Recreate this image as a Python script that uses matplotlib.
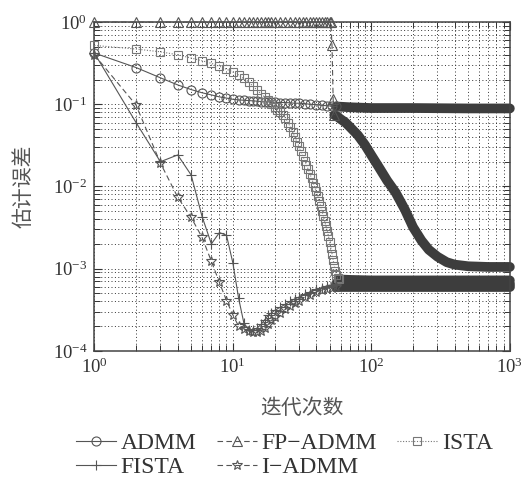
import numpy as np
import matplotlib.pyplot as plt

plt.rcParams['font.family'] = ['Liberation Serif', 'DejaVu Serif']
plt.rcParams['mathtext.fontset'] = 'stix'

# ---- datos ----
# ADMM (circulos)
admm_n = list(range(1, 21)) + [22, 24, 26, 28, 30, 33, 36, 40, 44, 48, 52, 56]
admm_v = [0.42, 0.28, 0.21, 0.172, 0.151, 0.138, 0.130, 0.123, 0.119, 0.115,
          0.113, 0.112, 0.111, 0.110, 0.109, 0.108, 0.108, 0.107, 0.106, 0.106,
          0.105, 0.105, 0.104, 0.103, 0.103, 0.102, 0.100, 0.099, 0.097, 0.096, 0.095, 0.094]
admm_tail_n = [56, 70, 100, 200, 500, 1000]
admm_tail_v = [0.094, 0.092, 0.090, 0.090, 0.089, 0.089]

# FP-ADMM (triangulos)
fp_n = list(range(1, 21)) + [22, 24, 26, 28, 30, 32, 34, 36, 38, 40, 42, 44, 46, 48, 50,
                              51, 52, 53, 54]
fp_v = [1.0, 1.0, 1.0, 1.0, 1.0, 1.0, 1.0, 1.0, 1.0, 1.0,
        1.0, 1.0, 1.0, 1.0, 1.0, 1.0, 1.0, 1.0, 1.0, 1.0,
        1.0, 1.0, 1.0, 1.0, 1.0, 1.0, 1.0, 1.0, 1.0, 1.0, 1.0, 1.0, 1.0, 1.0, 1.0,
        1.0, 0.52, 0.115, 0.074]
fp_tail_n = [54, 56, 60, 65, 70, 80, 90, 100, 113, 130, 150, 175, 200, 230, 260,
             300, 350, 400, 500, 700, 1000]
fp_tail_v = [0.074, 0.072, 0.066, 0.060, 0.053, 0.042, 0.032, 0.024, 0.0173, 0.0118,
             0.0084, 0.0052, 0.0032, 0.0022, 0.0017, 0.0014, 0.0012, 0.00112, 0.00107,
             0.00105, 0.00105]

# ISTA (cuadrados)
ista_n = list(range(1, 59))
ista_v = [0.52, 0.47, 0.435, 0.40, 0.365, 0.338, 0.315, 0.29, 0.267, 0.247,
          0.227, 0.206, 0.186, 0.166, 0.148, 0.134, 0.122, 0.112, 0.101, 0.092,
          0.086, 0.081, 0.075, 0.068, 0.060, 0.053, 0.046, 0.040, 0.035, 0.031,
          0.027, 0.0235, 0.0207, 0.0183, 0.0162, 0.0143, 0.0126, 0.0111, 0.0098, 0.0087,
          0.0076, 0.0066, 0.0058, 0.0050, 0.0044, 0.0038, 0.0033, 0.0029, 0.0025, 0.0021,
          0.0018, 0.00152, 0.00128, 0.00108, 0.00094, 0.00084, 0.00077, 0.00074]
ista_tail_n = [58, 70, 100, 300, 1000]
ista_tail_v = [0.00074, 0.00073, 0.00072, 0.00072, 0.00072]

# FISTA (+)
fista_n = list(range(1, 21)) + [22, 24, 26, 28, 30, 33, 36, 40, 44, 48, 52, 56]
fista_v = [0.42, 0.06, 0.020, 0.0242, 0.0138, 0.0043, 0.0020, 0.00275, 0.00255, 0.00118,
           0.00044, 0.00022, 0.00018, 0.000178, 0.00019, 0.00021, 0.00024, 0.00027, 0.00029, 0.00031,
           0.00034, 0.00037, 0.00040, 0.00043, 0.00045, 0.00049, 0.00052, 0.00056, 0.00059,
           0.00062, 0.00064, 0.00065]
fista_tail_n = [56, 70, 100, 300, 1000]
fista_tail_v = [0.00065, 0.00065, 0.00065, 0.00065, 0.00065]

# I-ADMM (estrellas)
iadmm_n = list(range(1, 21)) + [22, 24, 26, 28, 30, 33, 36, 40, 44, 48, 52, 56]
iadmm_v = [0.40, 0.098, 0.0193, 0.0074, 0.0042, 0.0024, 0.00123, 0.00068, 0.00041, 0.000275,
           0.00020, 0.000185, 0.000175, 0.00017, 0.00017, 0.000176, 0.00019, 0.00021, 0.000235,
           0.000255, 0.00029, 0.00032, 0.00035, 0.00038, 0.00041, 0.00045, 0.00048, 0.00052,
           0.00055, 0.00057, 0.00059, 0.0006]
iadmm_tail_n = [56, 70, 100, 300, 1000]
iadmm_tail_v = [0.0006, 0.0006, 0.0006, 0.0006, 0.0006]

series = [
    ('ADMM', admm_n, admm_v, admm_tail_n, admm_tail_v, 'o', '-', 6.5, '#555555'),
    ('FP\u2212ADMM', fp_n, fp_v, fp_tail_n, fp_tail_v, '^', (0, (5, 3)), 6.5, '#555555'),
    ('ISTA', ista_n, ista_v, ista_tail_n, ista_tail_v, 's', (0, (1, 1.5)), 5.5, '#777777'),
    ('FISTA', fista_n, fista_v, fista_tail_n, fista_tail_v, '+', '-', 7, '#555555'),
    ('I\u2212ADMM', iadmm_n, iadmm_v, iadmm_tail_n, iadmm_tail_v, '*', (0, (5, 3)), 7.5, '#555555'),
]

band = '#3d3d3d'

fig = plt.figure(figsize=(5.24, 4.8), dpi=100)
ax = fig.add_axes([0.18, 0.269, 0.793, 0.685])

handles = {}
for name, n, v, tn, tv, mk, ls, ms, col in series:
    ax.plot(tn, tv, color=band, lw=7, solid_capstyle='round', zorder=2, clip_on=False)
    h, = ax.plot(n, v, color=col, ls=ls, lw=0.8, marker=mk, ms=ms, mfc='none',
                 mec=col, mew=0.8, zorder=3, clip_on=False, label=name)
    handles[name] = h

ax.set_xscale('log')
ax.set_yscale('log')
ax.set_xlim(1, 1000)
ax.set_ylim(1e-4, 1)

ax.grid(True, which='both', color='#333333', lw=0.7, ls=(0, (1, 2.5)))
ax.tick_params(which='both', direction='in', top=True, right=True, colors='#333333',
               labelsize=13.5)
ax.tick_params(which='major', length=5.5, width=0.8, pad=5)
ax.tick_params(which='minor', length=4, width=0.7)
for sp in ax.spines.values():
    sp.set_color('#444444')
    sp.set_linewidth(1.1)

cjk = ['Noto Sans CJK SC', 'DejaVu Sans']
ax.set_xlabel('迭代次数', family=cjk, fontsize=15, color='#555555')
ax.set_ylabel('估计误差', family=cjk, fontsize=15, color='#555555')
ax.xaxis.set_label_coords(0.5, -0.14)
ax.yaxis.set_label_coords(-0.145, 0.5)

# orden por columnas para que las filas queden como en la figura
order = ['ADMM', 'FISTA', 'FP\u2212ADMM', 'I\u2212ADMM', 'ISTA']
fig.legend(handles=[handles[k] for k in order], loc='upper left',
           bbox_to_anchor=(0.145, 0.098), ncol=3,
           frameon=False, fontsize=17, handlelength=1.7, handletextpad=0.2,
           columnspacing=0.85, labelspacing=0.1, borderpad=0, borderaxespad=0,
           labelcolor='#333333')

fig.savefig('out.png', dpi=100)
